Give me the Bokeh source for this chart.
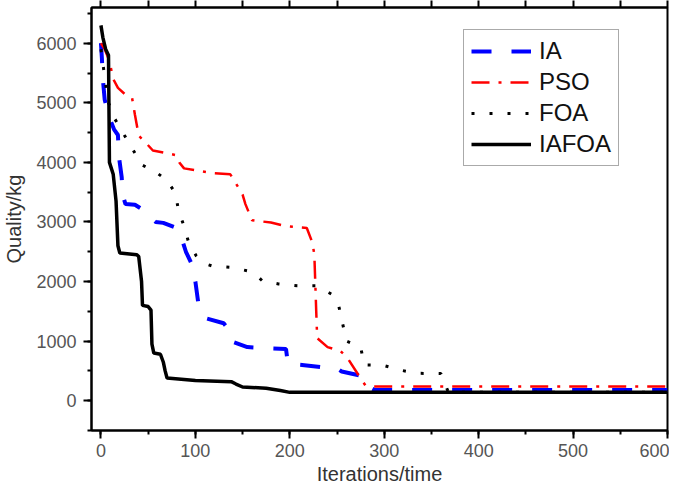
from bokeh.plotting import figure
from bokeh.models import (LinearAxis, SingleIntervalTicker, Legend, LegendItem, Range1d,
                          CustomJSTickFormatter)
from bokeh.embed import file_html
from bokeh.resources import INLINE

# ---- data ----
IA_x = [0, 1, 2, 4, 9, 14, 18, 19, 22, 23, 26, 36, 45, 50, 58, 66, 80, 85, 90, 96, 100,
        103, 107, 112, 130, 135, 139, 155, 180, 196, 198, 213, 235, 250, 255, 275, 282, 290, 600]
IA_y = [6000, 5750, 5400, 5050, 4750, 4550, 4460, 4100, 3750, 3450, 3300, 3290, 3200, 3100,
        3000, 2985, 2900, 2750, 2500, 2300, 2000, 1650, 1480, 1380, 1300, 1200, 990, 900, 880,
        870, 620, 600, 560, 540, 490, 420, 250, 180, 180]

PSO_x = [0, 4, 9, 13, 18, 25, 33, 36, 40, 48, 55, 68, 80, 83, 88, 118, 137, 144, 150, 153,
         160, 180, 196, 218, 224, 226, 228, 229, 240, 254, 261, 274, 280, 290, 600]
PSO_y = [6000, 5900, 5700, 5400, 5250, 5150, 5080, 4800, 4450, 4320, 4200, 4160, 4120, 4000,
         3900, 3820, 3800, 3620, 3460, 3300, 3030, 2990, 2930, 2900, 2650, 2450, 1500, 1050,
         900, 830, 720, 400, 260, 240, 240]

FOA_x = [0, 6, 8, 14, 25, 33, 43, 57, 70, 79, 82, 88, 93, 101, 110, 118, 137, 155, 165, 171,
         188, 208, 228, 244, 252, 256, 260, 275, 279, 298, 318, 335, 360, 368, 600]
FOA_y = [5900, 5200, 5000, 4750, 4450, 4240, 3960, 3850, 3700, 3480, 3200, 2930, 2650, 2430,
         2300, 2260, 2240, 2180, 2100, 2010, 1960, 1930, 1930, 1790, 1580, 1290, 1000, 900,
         600, 597, 510, 460, 455, 140, 140]

IAFOA_x = [0, 2, 5, 8, 9, 13, 16, 18, 20, 38, 40, 43, 44, 50, 53, 54, 56, 63, 66, 68, 70,
           85, 100, 138, 143, 150, 175, 190, 200, 600]
IAFOA_y = [6300, 6100, 5900, 5800, 4000, 3800, 3350, 2600, 2480, 2450, 2420, 2000, 1600,
           1580, 1520, 950, 800, 780, 650, 500, 380, 360, 340, 320, 280, 230, 210, 170, 140, 140]

series_names = ["IA", "PSO", "FOA", "IAFOA"]

x_label = "Iterations/time"
y_label = "Quality/kg"

FONT = "Liberation Sans"

p = figure(width=669, height=487, output_backend="svg", toolbar_location=None,
           x_range=Range1d(-10, 600), y_range=Range1d(-500, 6600),
           min_border_top=0, min_border_right=2, min_border_left=10, min_border_bottom=0)
p.background_fill_color = "white"
p.border_fill_color = "white"
p.xgrid.visible = False
p.ygrid.visible = False
p.outline_line_color = "black"
p.outline_line_width = 2

# bottom axis
xa = p.xaxis[0]
xa.ticker = SingleIntervalTicker(interval=100, num_minor_ticks=2)
# left axis
ya = p.yaxis[0]
ya.ticker = SingleIntervalTicker(interval=1000, num_minor_ticks=2)

for ax in (xa, ya):
    ax.axis_line_color = "black"
    ax.axis_line_width = 2
    ax.major_tick_line_color = "black"
    ax.minor_tick_line_color = "black"
    ax.major_tick_line_width = 2
    ax.minor_tick_line_width = 2
    ax.major_tick_in = 0
    ax.major_tick_out = 8
    ax.minor_tick_in = 0
    ax.minor_tick_out = 4
    ax.major_label_text_font = FONT
    ax.major_label_text_font_size = "18px"
    ax.major_label_text_color = "#555555"
    ax.axis_label_text_font = FONT
    ax.axis_label_text_font_size = "20px"
    ax.axis_label_text_font_style = "normal"
    ax.axis_label_text_color = "#333333"

xa.axis_label = x_label
ya.axis_label = y_label
xa.major_label_standoff = 5
xa.axis_label_standoff = 3
ya.major_label_standoff = 7
ya.axis_label_standoff = 8

# top axis: ticks only, no labels
top = LinearAxis(ticker=SingleIntervalTicker(interval=50, num_minor_ticks=0),
                 formatter=CustomJSTickFormatter(code="return '';"))
top.axis_line_color = "black"
top.axis_line_width = 2
top.major_tick_line_color = "black"
top.major_tick_line_width = 2
top.major_tick_in = 0
top.major_tick_out = 7
top.major_label_standoff = 0
top.minor_tick_line_color = None
p.add_layout(top, "above")

r_ia = p.line(IA_x, IA_y, line_color="#0000FF", line_width=4, line_dash="20 20")
r_pso = p.line(PSO_x, PSO_y, line_color="#FF0000", line_width=2.5, line_dash="18 9 3 9")
r_foa = p.line(FOA_x, FOA_y, line_color="black", line_width=3, line_dash="3 15")
r_iafoa = p.line(IAFOA_x, IAFOA_y, line_color="black", line_width=3.5)

legend = Legend(items=[LegendItem(label=n, renderers=[r]) for n, r in
                       zip(series_names, [r_ia, r_pso, r_foa, r_iafoa])],
                location=(372, 264))
legend.label_text_font = FONT
legend.label_text_font_size = "24px"
legend.label_text_color = "#111111"
legend.glyph_width = 60
legend.glyph_height = 28
legend.label_height = 28
legend.label_standoff = 8
legend.spacing = 3
legend.padding = 7
legend.margin = 0
legend.border_line_color = "#555555"
legend.border_line_width = 1.5
legend.background_fill_color = "white"
legend.background_fill_alpha = 1
p.add_layout(legend)

open("out.html", "w").write(file_html(p, INLINE))
